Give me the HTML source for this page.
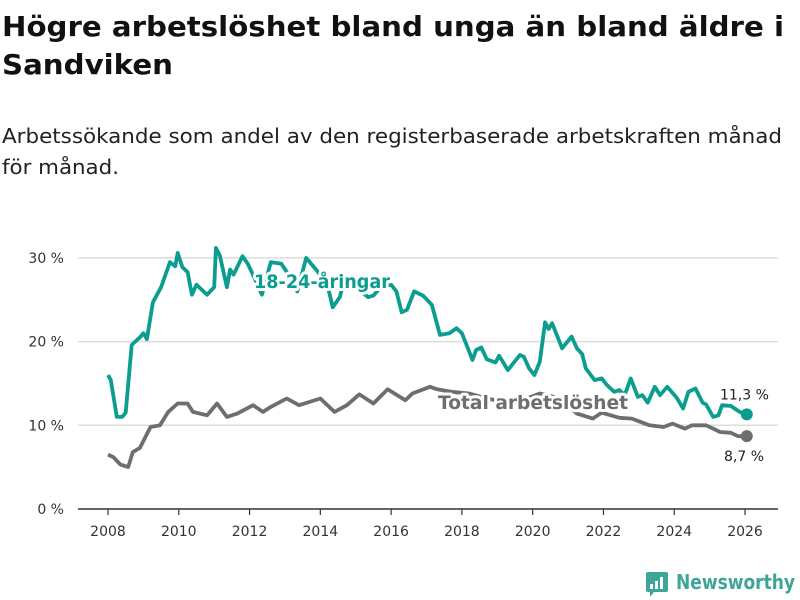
<!DOCTYPE html>
<html><head><meta charset="utf-8"><style>
html,body{margin:0;padding:0;background:#fff;}
svg{display:block;font-family:"DejaVu Sans","Liberation Sans",sans-serif;}
</style></head><body>
<svg id="chart" width="800" height="600" viewBox="0 0 800 600">
<text x="2" y="36" font-size="28" font-weight="bold" fill="#111" textLength="782" lengthAdjust="spacingAndGlyphs">Högre arbetslöshet bland unga än bland äldre i</text>
<text x="2" y="74" font-size="28" font-weight="bold" fill="#111" textLength="171" lengthAdjust="spacingAndGlyphs">Sandviken</text>
<text x="2" y="143" font-size="20" fill="#222" textLength="780" lengthAdjust="spacingAndGlyphs">Arbetssökande som andel av den registerbaserade arbetskraften månad</text>
<text x="2" y="174" font-size="20" fill="#222" textLength="117" lengthAdjust="spacingAndGlyphs">för månad.</text>
<g id="grid"></g><g id="xaxis"></g><g id="series"></g><g id="labels"></g>
<g>
<rect x="646" y="572" width="22" height="20" rx="2" fill="#3fa597"/>
<polygon points="650,592 654,592 650,597" fill="#3fa597"/>
<rect x="650" y="584" width="3" height="5" fill="#fff"/><rect x="655" y="581" width="3" height="8" fill="#fff"/><rect x="660" y="577" width="3" height="12" fill="#fff"/>
<text x="676" y="589" font-size="20" font-weight="bold" fill="#3fa597" textLength="119" lengthAdjust="spacingAndGlyphs">Newsworthy</text>
</g>
</svg>
<script>
const yTicks=[0,10,20,30];
const yTickLabels=["0 %","10 %","20 %","30 %"];
const xTicks=[2008,2010,2012,2014,2016,2018,2020,2022,2024,2026];
const youthDates=[2008.0,2008.08,2008.25,2008.4,2008.5,2008.67,2008.9,2009.0,2009.1,2009.27,2009.5,2009.75,2009.9,2009.97,2010.1,2010.25,2010.37,2010.5,2010.8,2011.0,2011.05,2011.16,2011.36,2011.45,2011.55,2011.8,2011.95,2012.15,2012.35,2012.6,2012.9,2013.1,2013.35,2013.6,2013.9,2014.2,2014.35,2014.55,2014.65,2015.0,2015.35,2015.5,2015.7,2016.0,2016.15,2016.3,2016.45,2016.65,2016.9,2017.15,2017.38,2017.65,2017.85,2018.0,2018.3,2018.4,2018.55,2018.7,2018.95,2019.05,2019.3,2019.64,2019.75,2019.9,2020.05,2020.2,2020.35,2020.45,2020.55,2020.83,2021.1,2021.25,2021.4,2021.5,2021.75,2021.95,2022.1,2022.3,2022.45,2022.6,2022.77,2022.97,2023.1,2023.25,2023.45,2023.6,2023.8,2024.07,2024.25,2024.4,2024.6,2024.8,2024.9,2025.1,2025.25,2025.35,2025.6,2025.85,2026.05];
const youthValues=[16,15.4,11,11,11.5,19.6,20.5,21,20.3,24.7,26.5,29.5,29,30.6,28.9,28.3,25.6,26.8,25.6,26.5,31.2,30.3,26.5,28.6,28,30.2,29.3,27.5,25.6,29.5,29.3,28,26,30,28.5,26.8,24.1,25.3,27,26.5,25.3,25.5,26.5,26.8,26,23.5,23.8,26,25.5,24.4,20.8,21,21.6,21,17.8,19,19.3,17.9,17.5,18.3,16.6,18.4,18.2,16.8,16,17.6,22.3,21.5,22.2,19.2,20.6,19.2,18.5,16.8,15.4,15.6,14.8,14,14.2,13.6,15.6,13.4,13.6,12.7,14.6,13.6,14.6,13.3,12,14,14.4,12.7,12.5,11,11.2,12.4,12.3,11.6,11.3];
const totalDates=[2008.0,2008.15,2008.35,2008.57,2008.7,2008.9,2009.2,2009.47,2009.7,2009.97,2010.25,2010.4,2010.8,2011.08,2011.36,2011.65,2012.1,2012.38,2012.6,2013.05,2013.4,2014.0,2014.4,2014.75,2015.1,2015.5,2015.9,2016.4,2016.6,2017.1,2017.3,2017.7,2018.2,2018.7,2019.2,2019.7,2020.2,2020.6,2021.0,2021.25,2021.7,2021.95,2022.45,2022.8,2023.3,2023.7,2023.95,2024.3,2024.5,2024.9,2025.3,2025.6,2025.8,2026.05];
const totalValues=[6.5,6.2,5.3,5,6.8,7.3,9.8,10,11.6,12.6,12.6,11.6,11.2,12.6,11,11.4,12.4,11.6,12.2,13.2,12.4,13.2,11.6,12.4,13.7,12.6,14.3,13,13.8,14.6,14.3,14,13.8,13.2,12.8,13,13.8,13.4,12.3,11.4,10.8,11.5,10.9,10.8,10,9.8,10.2,9.6,10,10,9.2,9.1,8.7,8.7];
const NS="http://www.w3.org/2000/svg";
const X=v=>108+(v-2008)*35.39;
const Y=v=>509-v*8.37;
function mk(t,a,p){const e=document.createElementNS(NS,t);for(const k in a)e.setAttribute(k,a[k]);p.appendChild(e);return e;}
const grid=document.getElementById('grid');
yTicks.forEach((t,i)=>{
 if(t>0){const l=mk('line',{x1:78,x2:778,y1:Y(t),y2:Y(t),stroke:'#ddd','stroke-width':1.5},grid);
 
 }
 const tx=mk('text',{x:64,y:Y(t)+5,'text-anchor':'end','font-size':14,fill:'#333'},grid);
 tx.textContent=yTickLabels[i];
 
 
});
const xa=document.getElementById('xaxis');
const ax=mk('line',{x1:78,x2:778,y1:509,y2:509,stroke:'#333','stroke-width':1.5},xa);


xTicks.forEach(t=>{
 mk('line',{x1:X(t),x2:X(t),y1:509,y2:515,stroke:'#333','stroke-width':1.2},xa);
 const tx=mk('text',{x:X(t),y:536,'text-anchor':'middle','font-size':14,fill:'#333'},xa);
 tx.textContent=t;
 
 
});
const sg=document.getElementById('series');
function draw(d,v,col,name){
 const p=mk('path',{d:d.map((x,i)=>(i?'L':'M')+X(x).toFixed(1)+','+Y(v[i]).toFixed(1)).join(''),fill:'none',stroke:col,'stroke-width':3.8,'stroke-linejoin':'round'},sg);
 
 
 const n=d.length-1;
 const c=mk('circle',{cx:X(d[n]),cy:Y(v[n]),r:6,fill:col},sg);
 
 
}
draw(totalDates,totalValues,'#6e6e6e','total');
draw(youthDates,youthValues,'#0b9e90','youth');
const lg=document.getElementById('labels');
function lab(x,y,s,col,size,bold,name,halo,len){
 const t=mk('text',{x:x,y:y,'font-size':size,fill:col,'font-weight':bold?'bold':'normal'},lg);
 if(len){t.setAttribute('textLength',len);t.setAttribute('lengthAdjust','spacingAndGlyphs');}
 if(halo){t.setAttribute('stroke','#fff');t.setAttribute('stroke-width',6);t.setAttribute('paint-order','stroke');t.setAttribute('stroke-linejoin','round');}
 t.textContent=s;
 
 
}
lab(254,288,'18-24-åringar','#0b9e90',19,true,'youth-series-label',true,136);
lab(438,409,'Total arbetslöshet','#6e6e6e',19,true,'total-series-label',true,190);
const ny=youthValues[youthValues.length-1], nt=totalValues[totalValues.length-1];
lab(720,Y(ny)-15,String(ny).replace('.',',')+' %','#222',14,false,'youth-end-value',false,0);
lab(724,Y(nt)+25,String(nt).replace('.',',')+' %','#222',14,false,'total-end-value',false,0);
</script>
</body></html>
